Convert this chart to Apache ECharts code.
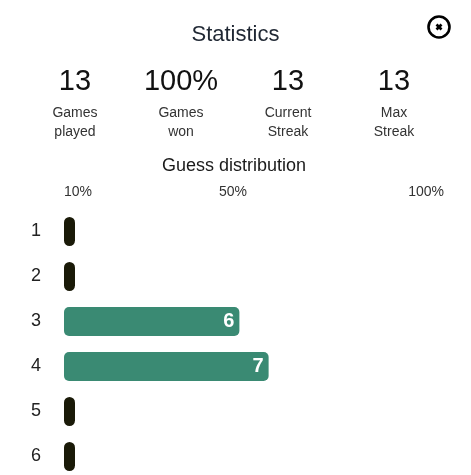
<!DOCTYPE html>
<html>
<head>
<meta charset="utf-8">
<script src="https://cdn.jsdelivr.net/npm/echarts@6/dist/echarts.min.js"></script>
<style>
html,body{margin:0;padding:0;background:#fff;overflow:hidden;}
#c{width:471px;height:480px;}
</style>
</head>
<body>
<div id="c"></div>
<script>
const titleText = 'Statistics';
const statValues = ['13', '100%', '13', '13'];
const statLabels = ['Games\nplayed', 'Games\nwon', 'Current\nStreak', 'Max\nStreak'];
const distTitle = 'Guess distribution';
const guessCategories = ['1', '2', '3', '4', '5', '6'];
const guessCounts = [0, 0, 6, 7, 0, 0];
const gamesPlayed = 13;
const tickLabels = ['10%', '', '', '', '50%', '', '', '', '', '100%'];

const FONT = 'Arial, "Liberation Sans", sans-serif';
const statX = [75, 181, 288, 394];

const graphics = [
  { type: 'text', left: 'center', top: 24, style: { text: titleText, font: '22px ' + FONT, fill: '#1f2733' } },
  { type: 'circle', shape: { cx: 439, cy: 27, r: 10.5 }, style: { fill: 'none', stroke: '#000', lineWidth: 2.6 } },
  { type: 'line', shape: { x1: 436.5, y1: 24.5, x2: 441.5, y2: 29.5 }, style: { stroke: '#000', lineWidth: 2.6 } },
  { type: 'line', shape: { x1: 441.5, y1: 24.5, x2: 436.5, y2: 29.5 }, style: { stroke: '#000', lineWidth: 2.6 } },
  { type: 'text', x: 234, y: 166, style: { text: distTitle, font: '18px ' + FONT, fill: '#1a1a1a', align: 'center', verticalAlign: 'middle' } }
];
statValues.forEach((v, i) => {
  graphics.push({ type: 'text', x: statX[i], y: 82, style: { text: v, font: '29px ' + FONT, fill: '#111', align: 'center', verticalAlign: 'middle' } });
  graphics.push({ type: 'text', x: statX[i], y: 103, style: { text: statLabels[i], font: '14px ' + FONT, fill: '#333', align: 'center', verticalAlign: 'top', lineHeight: 19.5 } });
});

const chart = echarts.init(document.getElementById('c'), null, { renderer: 'canvas' });
chart.setOption({
  animation: false,
  backgroundColor: '#fff',
  graphic: graphics,
  grid: { left: 64, right: 27, top: 209, bottom: 1 },
  xAxis: [
    { type: 'value', min: 0, max: gamesPlayed, show: false },
    {
      type: 'category', position: 'top', data: tickLabels, boundaryGap: false,
      axisLine: { show: false }, axisTick: { show: false }, splitLine: { show: false },
      axisLabel: { interval: 0, margin: 10, fontSize: 14, color: '#333', fontFamily: FONT, alignMinLabel: 'left', alignMaxLabel: 'right' }
    }
  ],
  yAxis: {
    type: 'category', data: guessCategories, inverse: true,
    axisLine: { show: false }, axisTick: { show: false }, splitLine: { show: false },
    axisLabel: { margin: 23, fontSize: 18, color: '#222', fontFamily: FONT }
  },
  series: [{
    type: 'bar',
    xAxisIndex: 0,
    barWidth: 29,
    barMinHeight: 11,
    data: guessCounts.map(v => ({
      value: v,
      itemStyle: v > 0 ? { color: '#3a8a73', borderRadius: 5 } : { color: '#1a1a08', borderRadius: 5.5 }
    })),
    label: {
      show: true, position: 'insideRight', distance: 5,
      color: '#fff', fontSize: 20, fontWeight: 'bold', fontFamily: FONT,
      formatter: p => p.value > 0 ? String(p.value) : ''
    }
  }]
});
</script>
</body>
</html>
